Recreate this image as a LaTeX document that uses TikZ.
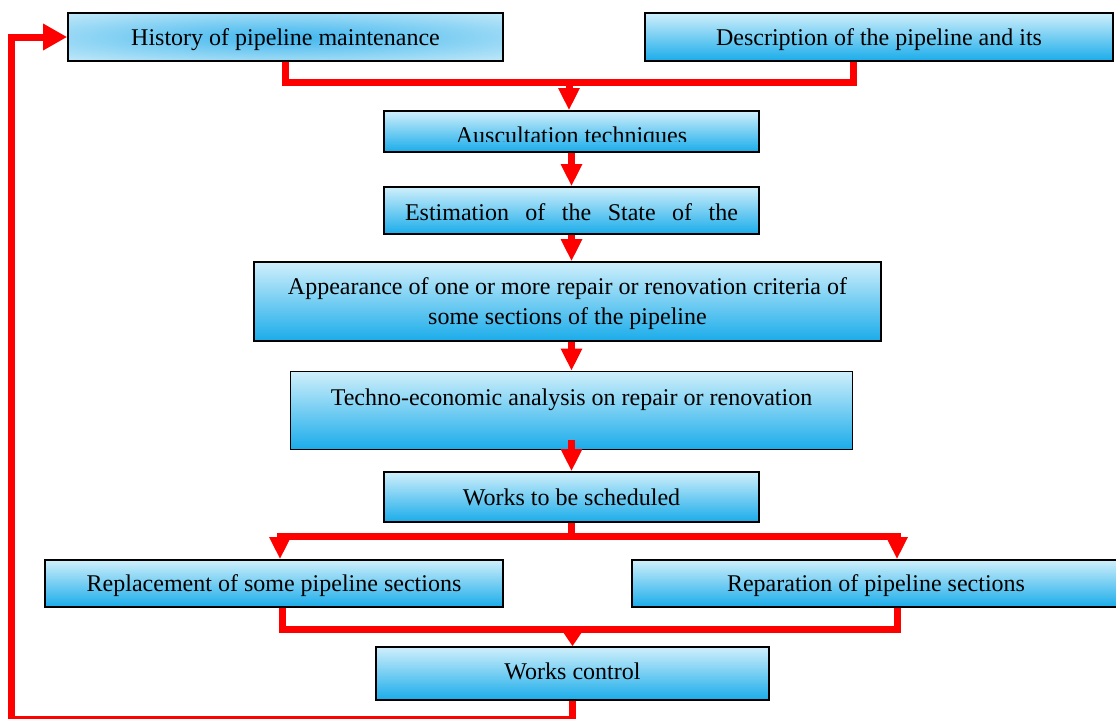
\documentclass[tikz,border=0pt]{standalone}
\usepackage{fontspec}
\setmainfont{Liberation Serif}
\usetikzlibrary{arrows.meta}
\definecolor{boxtop}{HTML}{CFEFFB}
\definecolor{boxbot}{HTML}{1AACEA}
\definecolor{glow}{HTML}{3FB6EE}
\definecolor{histbg}{HTML}{C8EBF9}
% baseline placed #1 below the node centre
\newcommand{\dn}[2]{\raisebox{-#1}[0pt][0pt]{#2}}
\begin{document}
\begin{tikzpicture}[x=1pt,y=-1pt,
  boxbase/.style={draw=black, line width=1.6pt, inner sep=0pt, align=center,
    font=\fontsize{24}{30}\selectfont},
  box/.style={boxbase, top color=boxtop, bottom color=boxbot},
  histbox/.style={boxbase, fill=histbg,
    path picture={\shade[inner color=glow, outer color=histbg]
      (path picture bounding box.center) ellipse [x radius=340pt, y radius=34pt];}},
  redline/.style={draw=red, line width=7pt, line join=miter},
  flow/.style={redline, -{Triangle[width=20pt,length=22pt]}},
]
\useasboundingbox (0,0) rectangle (1116,718);

% boxes
\node[histbox, minimum width=435pt, minimum height=48pt] (hist) at (285.5,37) {\dn{8pt}{History of pipeline maintenance}};
\node[box, minimum width=468pt, minimum height=48pt] (desc) at (879,37) {\dn{8pt}{Description of the pipeline and its}};
\node[box, minimum width=375pt, minimum height=41pt] (aus) at (571.5,131.5) {};
\begin{scope}
  \clip (aus.north west) rectangle ([yshift=11pt]aus.south east);
  \node[anchor=base, inner sep=0pt, font=\fontsize{24}{30}\selectfont] (austext) at (571.5,143) {Auscultation techniques};
\end{scope}
\node[box, minimum width=375pt, minimum height=47pt] (est) at (571.5,210.5) {\dn{9.5pt}{\makebox[333pt][s]{Estimation of the State of the}}};
\node[box, minimum width=627pt, minimum height=79pt] (app) at (567.5,301.5) {\dn{-7.5pt}{\begin{tabular}[t]{@{}c@{}}Appearance of one or more repair or renovation criteria of\\ some sections of the pipeline\end{tabular}}};
\node[box, minimum width=562pt, minimum height=78pt] (tech) at (571.5,410.5) {\dn{-5.5pt}{Techno-economic analysis on repair or renovation}};
\node[box, minimum width=375pt, minimum height=50pt] (ws) at (571.5,497) {\dn{8pt}{Works to be scheduled}};
\node[box, minimum width=458pt, minimum height=47pt] (rep) at (274,583.5) {\dn{7.5pt}{Replacement of some pipeline sections}};
\node[box, minimum width=488pt, minimum height=47pt] (repa) at (876,583.5) {\dn{7.5pt}{Reparation of pipeline sections}};
\node[box, minimum width=393pt, minimum height=53pt] (wc) at (572.5,673.5) {\dn{6pt}{Works control}};

% connectors
\coordinate (tj) at (569,82);
\draw[redline] (hist.south) |- (tj) -| ([xshift=-26pt]desc.south);
\draw[flow] (tj) -- (tj |- aus.north);
\draw[flow] (aus.south) -- (est.north);
\draw[flow] (est.south) -- (est.south |- app.north);
\draw[flow] (est.south |- app.south) -- (est.south |- tech.north);
\draw[flow] ([yshift=10pt]tech.south) -- (ws.north);

\coordinate (sl) at (280,536);
\coordinate (sr) at (897,536);
\draw[redline] (ws.south) -- (ws.south |- sl);
\draw[redline, line cap=rect] (sl) -- (sr);
\draw[flow] (sl) -- (sl |- rep.north);
\draw[flow] (sr) -- (sr |- repa.north);

\coordinate (ml) at (282,629);
\coordinate (mr) at (897,629);
\draw[redline] (ml |- rep.south) -- (ml) -- (mr) -- (mr |- repa.south);
\draw[redline, -{Triangle[width=19pt,length=15pt]}] (wc.north |- ml) -- (wc.north);

\coordinate (lb) at (11,719);
\draw[redline, -{Triangle[width=25pt,length=24pt]}] (wc.south) |- (lb) |- (hist.west);
\end{tikzpicture}
\end{document}
